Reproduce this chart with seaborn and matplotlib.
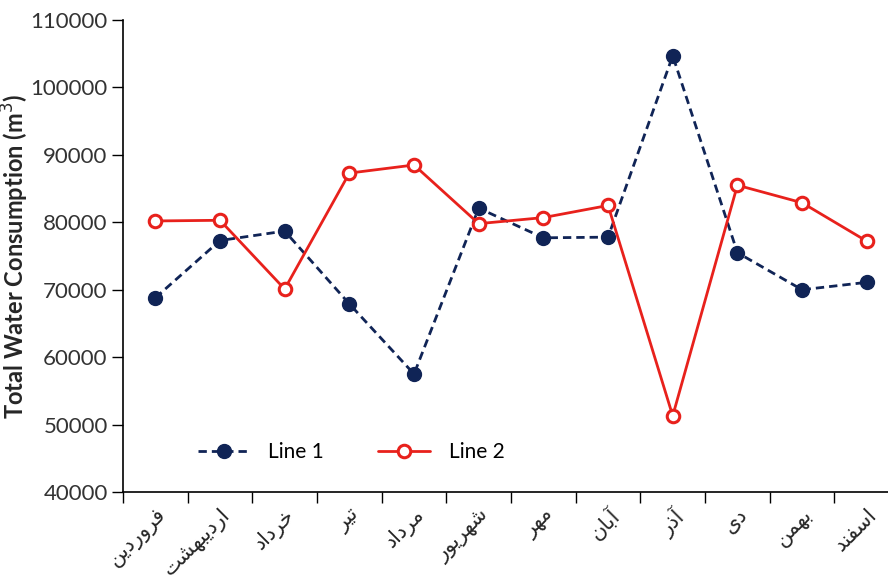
import numpy as np
import pandas as pd
import seaborn as sns
import matplotlib
import matplotlib.pyplot as plt

matplotlib.use('Agg')

# Persian month names (logical order)
months = ["فروردین", "اردیبهشت", "خرداد", "تیر", "مرداد", "شهریور",
          "مهر", "آبان", "آذر", "دی", "بهمن", "اسفند"]

line1 = [68800, 77300, 78700, 67900, 57500, 82100,
         77700, 77800, 104700, 75500, 70000, 71100]
line2 = [80200, 80300, 70100, 87300, 88500, 79800,
         80700, 82500, 51300, 85500, 82900, 77200]

y_ticks = [40000, 50000, 60000, 70000, 80000, 90000, 100000, 110000]

# simple Arabic/Persian shaping (matplotlib has no complex text layout)
# forms: isolated, final, initial, medial
FORMS = {
    'ا': ('\uFE8D', '\uFE8E'), 'آ': ('\uFE81', '\uFE82'),
    'د': ('\uFEA9', '\uFEAA'), 'ذ': ('\uFEAB', '\uFEAC'),
    'ر': ('\uFEAD', '\uFEAE'), 'ز': ('\uFEAF', '\uFEB0'),
    'و': ('\uFEED', '\uFEEE'),
    'ب': ('\uFE8F', '\uFE90', '\uFE91', '\uFE92'),
    'ت': ('\uFE95', '\uFE96', '\uFE97', '\uFE98'),
    'خ': ('\uFEA5', '\uFEA6', '\uFEA7', '\uFEA8'),
    'س': ('\uFEB1', '\uFEB2', '\uFEB3', '\uFEB4'),
    'ش': ('\uFEB5', '\uFEB6', '\uFEB7', '\uFEB8'),
    'ف': ('\uFED1', '\uFED2', '\uFED3', '\uFED4'),
    'م': ('\uFEE1', '\uFEE2', '\uFEE3', '\uFEE4'),
    'ن': ('\uFEE5', '\uFEE6', '\uFEE7', '\uFEE8'),
    'ه': ('\uFEE9', '\uFEEA', '\uFEEB', '\uFEEC'),
    'ی': ('\uFBFC', '\uFBFD', '\uFBFE', '\uFBFF'),
}


def shape(word):
    out = []
    for i, ch in enumerate(word):
        f = FORMS[ch]
        prev_joins = i > 0 and len(FORMS[word[i - 1]]) == 4
        next_joins = len(f) == 4 and i < len(word) - 1
        if prev_joins and next_joins:
            out.append(f[3])
        elif prev_joins:
            out.append(f[1])
        elif next_joins:
            out.append(f[2])
        else:
            out.append(f[0])
    return ''.join(out[::-1])


x = np.arange(len(months))
df = pd.DataFrame({'x': x, 'line1': line1, 'line2': line2})

sns.set_style('ticks')
plt.rcParams['font.family'] = ['Lato', 'DejaVu Sans']

fig = plt.figure(figsize=(8.88, 5.82), dpi=100)
ax = fig.add_axes([0.1385, 0.1546, 0.874, 0.811])

navy = '#102456'
red = '#E8211C'

sns.lineplot(data=df, x='x', y='line1', ax=ax, color=navy, linestyle=(0, (3, 1.8)),
             linewidth=2.0, marker='o', markersize=10, markerfacecolor=navy,
             markeredgecolor=navy, markeredgewidth=1, label='Line 1')
sns.lineplot(data=df, x='x', y='line2', ax=ax, color=red, linestyle='-',
             linewidth=2.0, marker='o', markersize=9, markerfacecolor='white',
             markeredgecolor=red, markeredgewidth=2.2, label='Line 2')

ax.set_xlim(-0.5, len(months) - 0.5)
ax.set_ylim(40000, 110000)
ax.set_yticks(y_ticks)
ax.set_yticklabels([str(v) for v in y_ticks])

ax.set_xticks(x)
ax.set_xticklabels([shape(m) for m in months], rotation=45, ha='right',
                   rotation_mode='anchor', family='DejaVu Sans', fontsize=15)
ax.set_xticks(np.arange(-0.5, len(months), 1), minor=True)
ax.tick_params(axis='x', which='major', bottom=True, length=0, pad=9)
ax.tick_params(axis='x', which='minor', bottom=True, length=8, width=1,
               color='black', direction='out')
ax.tick_params(axis='y', left=True, length=8, width=1, color='black', direction='out',
               labelsize=16, labelcolor='#333333', pad=3)

sns.despine(ax=ax)
for s in ['left', 'bottom']:
    ax.spines[s].set_color('black')
    ax.spines[s].set_linewidth(1.2)

ax.set_xlabel('')
ax.set_ylabel('Total Water Consumption (m$^3$)', fontsize=17, fontweight='bold')
ax.yaxis.set_label_coords(-0.118, 0.5)

ax.legend(loc='center left', bbox_to_anchor=(0.072, 0.085), ncol=2, frameon=False,
          fontsize=15, handlelength=2.5, handletextpad=0.9, columnspacing=2.6,
          labelcolor='black')

fig.savefig('out.png', dpi=100)
